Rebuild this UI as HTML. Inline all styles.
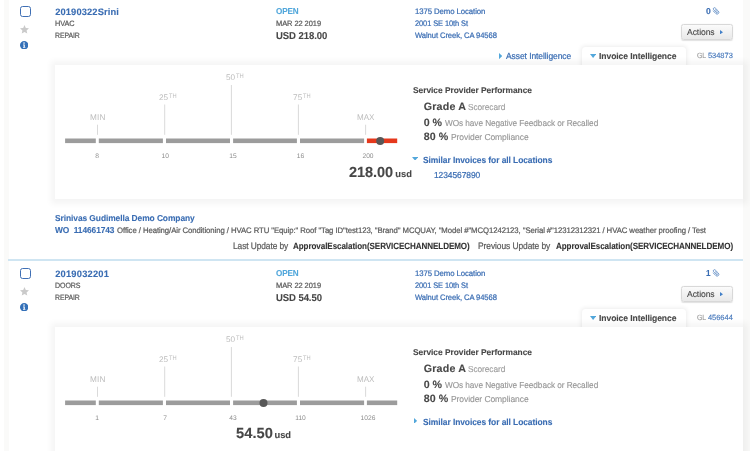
<!DOCTYPE html>
<html lang="en"><head><meta charset="utf-8"><title>Invoices</title>
<style>
html,body{margin:0;padding:0}
body{width:750px;height:451px;overflow:hidden;position:relative;background:#fff;font-family:"Liberation Sans",sans-serif;text-rendering:geometricPrecision}
.page{position:absolute;left:0;top:0;width:750px;height:451px;overflow:hidden}
.gut{position:absolute;left:4.3px;top:0;width:746px;height:451px;background:#fafaf9}
.white{position:absolute;left:8.7px;top:0;width:733.9px;height:451px;background:#fff}
.t{position:absolute;white-space:nowrap;line-height:20px;transform-origin:0 0;-webkit-text-stroke:.22px}
.t.n{-webkit-text-stroke:0}
.t.g{-webkit-text-stroke:.12px}
.i{position:absolute;display:block}
.panel{position:absolute;left:55.2px;width:687.4px;background:#fff;box-shadow:0 0 6px 4.5px rgba(0,0,0,.042)}
.tab{position:absolute;left:581.6px;width:104.6px;height:24px;background:#fff;border-radius:3.5px 3.5px 0 0;box-shadow:0 0 4px .5px rgba(0,0,0,.075)}
.tabcover{position:absolute;left:575px;width:118px;height:8px;background:#fff}
.sep{position:absolute;left:8.4px;width:734.2px;top:258.8px;height:2px;background:#cfe5f2}
.cb{position:absolute;left:20px;width:8.6px;height:8.6px;border:1.1px solid #3f6fb4;border-radius:2.6px;background:#fff}
.btn{position:absolute;left:681.4px;width:49.6px;height:14.2px;border:.7px solid #d8d8d8;border-radius:2.5px;background:linear-gradient(#fbfbfb,#e9e9e9);box-shadow:0 .7px 1px rgba(0,0,0,.12)}
</style></head>
<body>
<div class="page">
<div class="gut"></div><div class="white"></div>
<div class="sep"></div>
<!-- row 1 -->
<div class="tab" style="top:46.9px"></div>
<div class="panel" style="top:64.7px;height:134.4px"></div>
<div class="tabcover" style="top:64.7px"></div>
<svg class="i" style="left:60px;top:80.0px" width="345" height="70" viewBox="60 80 345 70">
<rect x="65.1" y="138.5" width="30.7" height="4.6" fill="#9c9c9c"/>
<rect x="98.8" y="138.5" width="64.1" height="4.6" fill="#9c9c9c"/>
<rect x="166.0" y="138.5" width="64.0" height="4.6" fill="#9c9c9c"/>
<rect x="233.1" y="138.5" width="63.8" height="4.6" fill="#9c9c9c"/>
<rect x="300.0" y="138.5" width="64.1" height="4.6" fill="#9c9c9c"/>
<rect x="366.9" y="138.5" width="30.3" height="4.6" fill="#e5381c"/>
<rect x="97.0" y="124.7" width="1" height="10.1" fill="#dadada"/>
<rect x="164.2" y="104.5" width="1" height="30.3" fill="#dadada"/>
<rect x="230.9" y="85.0" width="1" height="49.8" fill="#dadada"/>
<rect x="297.9" y="104.5" width="1" height="30.3" fill="#dadada"/>
<rect x="365.1" y="124.7" width="1" height="10.1" fill="#dadada"/>
<circle cx="380.2" cy="141.1" r="4" fill="#575757"/>
</svg>
<div class="cb" style="top:6.2px"></div>
<svg class="i" style="left:20px;top:25.0px" width="9" height="8.6" viewBox="0 0 20 19"><polygon fill="#cacaca" points="10,0 12.9,6.6 20,7.3 14.6,12 16.2,19 10,15.3 3.8,19 5.4,12 0,7.3 7.1,6.6"/></svg>
<svg class="i" style="left:19.9px;top:41.0px" width="8.4" height="8.4" viewBox="0 0 20 20"><circle cx="10" cy="10" r="10" fill="#3470b8"/><circle cx="9.6" cy="5" r="1.9" fill="#fff"/><path d="M7.2 8.2h4.2v6.2h1.4v1.9H7.2v-1.9h1.4v-4.3H7.2z" fill="#fff"/></svg>
<svg class="i" style="left:712px;top:7.4px" width="7.5" height="8" viewBox="0 0 15 16"><g transform="rotate(-45 7.5 8)" fill="none" stroke="#4578ba" stroke-width="1.35" stroke-linecap="round"><path d="M4 4.5v7.3a3.5 3.5 0 0 0 7 0V3.2a2.35 2.35 0 0 0-4.7 0v7.9a1.2 1.2 0 0 0 2.4 0V5.4"/></g></svg>
<div class="btn" style="top:24.3px"></div>
<svg class="i" style="left:720.3px;top:29.9px" width="3" height="4.4" viewBox="0 0 3 4.4"><polygon fill="#4380c8" points="0,0 3,2.2 0,4.4"/></svg>
<svg class="i" style="left:498.5px;top:52.9px" width="3.3" height="6.2" viewBox="0 0 3.3 6.2"><polygon fill="#52a7db" points="0,0 3.3,3.1 0,6.2"/></svg>
<svg class="i" style="left:590.2px;top:53.8px" width="6.2" height="3.9" viewBox="0 0 6.2 3.9"><polygon fill="#52a7db" points="0,0 6.2,0 3.1,3.9"/></svg>
<svg class="i" style="left:412.1px;top:156.7px" width="6.2" height="3.6" viewBox="0 0 6.2 3.6"><polygon fill="#52a7db" points="0,0 6.2,0 3.1,3.6"/></svg>
<!-- row 2 -->
<div class="tab" style="top:308.9px"></div>
<div class="panel" style="top:326.7px;height:300px"></div>
<div class="tabcover" style="top:326.7px"></div>
<svg class="i" style="left:60px;top:342px" width="345" height="70" viewBox="60 80 345 70">
<rect x="65.1" y="138.5" width="30.7" height="4.6" fill="#9c9c9c"/>
<rect x="98.8" y="138.5" width="64.1" height="4.6" fill="#9c9c9c"/>
<rect x="166.0" y="138.5" width="64.0" height="4.6" fill="#9c9c9c"/>
<rect x="233.1" y="138.5" width="63.8" height="4.6" fill="#9c9c9c"/>
<rect x="300.0" y="138.5" width="64.1" height="4.6" fill="#9c9c9c"/>
<rect x="366.9" y="138.5" width="30.3" height="4.6" fill="#9c9c9c"/>
<rect x="97.0" y="124.7" width="1" height="10.1" fill="#dadada"/>
<rect x="164.2" y="104.5" width="1" height="30.3" fill="#dadada"/>
<rect x="230.9" y="85.0" width="1" height="49.8" fill="#dadada"/>
<rect x="297.9" y="104.5" width="1" height="30.3" fill="#dadada"/>
<rect x="365.1" y="124.7" width="1" height="10.1" fill="#dadada"/>
<circle cx="263.5" cy="141.1" r="4" fill="#575757"/>
</svg>
<div class="cb" style="top:268.2px"></div>
<svg class="i" style="left:20px;top:287.0px" width="9" height="8.6" viewBox="0 0 20 19"><polygon fill="#cacaca" points="10,0 12.9,6.6 20,7.3 14.6,12 16.2,19 10,15.3 3.8,19 5.4,12 0,7.3 7.1,6.6"/></svg>
<svg class="i" style="left:19.9px;top:303.0px" width="8.4" height="8.4" viewBox="0 0 20 20"><circle cx="10" cy="10" r="10" fill="#3470b8"/><circle cx="9.6" cy="5" r="1.9" fill="#fff"/><path d="M7.2 8.2h4.2v6.2h1.4v1.9H7.2v-1.9h1.4v-4.3H7.2z" fill="#fff"/></svg>
<svg class="i" style="left:712px;top:269.4px" width="7.5" height="8" viewBox="0 0 15 16"><g transform="rotate(-45 7.5 8)" fill="none" stroke="#4578ba" stroke-width="1.35" stroke-linecap="round"><path d="M4 4.5v7.3a3.5 3.5 0 0 0 7 0V3.2a2.35 2.35 0 0 0-4.7 0v7.9a1.2 1.2 0 0 0 2.4 0V5.4"/></g></svg>
<div class="btn" style="top:286.3px"></div>
<svg class="i" style="left:720.3px;top:291.9px" width="3" height="4.4" viewBox="0 0 3 4.4"><polygon fill="#4380c8" points="0,0 3,2.2 0,4.4"/></svg>
<svg class="i" style="left:590.2px;top:315.8px" width="6.2" height="3.9" viewBox="0 0 6.2 3.9"><polygon fill="#52a7db" points="0,0 6.2,0 3.1,3.9"/></svg>
<svg class="i" style="left:413.6px;top:417.6px" width="3.2" height="5.8" viewBox="0 0 3.2 5.8"><polygon fill="#52a7db" points="0,0 3.2,2.9 0,5.8"/></svg>
<span class="t" style="top:2px;font-size:9.33px;color:#3a6db3;font-weight:700;-webkit-text-stroke:.1px;left:55.20px;letter-spacing:0.124px;">20190322Srini</span>
<span class="t" style="top:14px;font-size:7.7px;color:#5a5a5a;left:55.20px;letter-spacing:-0.080px;transform:scaleX(0.9501);">HVAC</span>
<span class="t" style="top:26px;font-size:7.7px;color:#5a5a5a;left:55.20px;letter-spacing:-0.080px;transform:scaleX(0.8962);">REPAIR</span>
<span class="t" style="top:1px;font-size:8.67px;color:#52a7db;font-weight:700;-webkit-text-stroke:.1px;left:275.90px;letter-spacing:-0.080px;transform:scaleX(0.9343);">OPEN</span>
<span class="t" style="top:14px;font-size:7.7px;color:#5a5a5a;left:275.90px;letter-spacing:-0.080px;transform:scaleX(0.9748);">MAR 22 2019</span>
<span class="t" style="top:27px;font-size:10px;color:#474747;font-weight:700;-webkit-text-stroke:.1px;left:275.90px;letter-spacing:-0.080px;transform:scaleX(0.9533);">USD 218.00</span>
<span class="t" style="top:2px;font-size:8px;color:#3a6db3;left:415.20px;letter-spacing:-0.080px;transform:scaleX(0.9711);">1375 Demo Location</span>
<span class="t" style="top:14px;font-size:8px;color:#3a6db3;left:415.20px;letter-spacing:-0.080px;transform:scaleX(0.9282);">2001 SE 10th St</span>
<span class="t" style="top:26px;font-size:8px;color:#3a6db3;left:415.20px;letter-spacing:-0.080px;transform:scaleX(0.9511);">Walnut Creek, CA 94568</span>
<span class="t" style="top:1px;font-size:8.67px;color:#3a6db3;font-weight:700;-webkit-text-stroke:.1px;left:706.00px;letter-spacing:0.439px;">0</span>
<span class="t g" style="top:22px;font-size:8.67px;color:#474747;left:687.10px;letter-spacing:-0.080px;transform:scaleX(0.9910);">Actions</span>
<span class="t" style="top:46px;font-size:8.8px;color:#3a6db3;left:505.80px;letter-spacing:-0.080px;transform:scaleX(0.9653);">Asset Intelligence</span>
<span class="t" style="top:46px;font-size:8.67px;color:#474747;font-weight:700;-webkit-text-stroke:.1px;left:599.30px;letter-spacing:-0.080px;transform:scaleX(0.9887);">Invoice Intelligence</span>
<span class="t g" style="top:46px;font-size:7.6px;color:#999;left:696.70px;letter-spacing:-0.080px;transform:scaleX(0.9139);">GL</span>
<span class="t g" style="top:46px;font-size:7.5px;color:#4577bb;left:707.90px;letter-spacing:-0.016px;">534873</span>
<span class="t" style="top:80px;font-size:8.4px;color:#474747;font-weight:700;-webkit-text-stroke:.1px;left:413.00px;letter-spacing:-0.026px;">Service Provider Performance</span>
<span class="t" style="top:97px;font-size:10.67px;color:#474747;font-weight:700;-webkit-text-stroke:.1px;left:423.70px;letter-spacing:0.217px;">Grade A</span>
<span class="t g" style="top:97px;font-size:8.67px;color:#9c9c9c;left:467.70px;letter-spacing:-0.080px;transform:scaleX(0.9619);">Scorecard</span>
<span class="t" style="top:113px;font-size:10.67px;color:#474747;font-weight:700;-webkit-text-stroke:.1px;left:423.70px;">0 %</span>
<span class="t g" style="top:113px;font-size:8.67px;color:#969696;left:444.60px;letter-spacing:-0.080px;transform:scaleX(0.9539);">WOs have Negative Feedback or Recalled</span>
<span class="t" style="top:127px;font-size:10.67px;color:#474747;font-weight:700;-webkit-text-stroke:.1px;left:423.70px;letter-spacing:0.090px;">80 %</span>
<span class="t g" style="top:127px;font-size:8.67px;color:#969696;left:450.90px;letter-spacing:-0.080px;transform:scaleX(0.9840);">Provider Compliance</span>
<span class="t" style="top:150px;font-size:8.9px;color:#3a6db3;font-weight:700;-webkit-text-stroke:.1px;left:422.60px;letter-spacing:-0.080px;transform:scaleX(0.9514);">Similar Invoices for all Locations</span>
<span class="t" style="top:165px;font-size:8.67px;color:#3a6db3;left:433.50px;letter-spacing:-0.080px;transform:scaleX(0.9749);">1234567890</span>
<span class="t n" style="top:108px;font-size:8.2px;color:#bdbdbd;left:89.90px;letter-spacing:0.252px;">MIN</span>
<span class="t n" style="top:88px;font-size:8.2px;color:#bdbdbd;left:158.90px;letter-spacing:0.011px;">25</span>
<span class="t n" style="top:87px;font-size:6.4px;color:#bdbdbd;left:169.00px;letter-spacing:-0.080px;transform:scaleX(0.8961);">TH</span>
<span class="t n" style="top:68px;font-size:8.2px;color:#bdbdbd;left:226.00px;letter-spacing:0.011px;">50</span>
<span class="t n" style="top:67px;font-size:6.4px;color:#bdbdbd;left:236.10px;letter-spacing:-0.080px;transform:scaleX(0.9089);">TH</span>
<span class="t n" style="top:88px;font-size:8.2px;color:#bdbdbd;left:293.10px;letter-spacing:0.111px;">75</span>
<span class="t n" style="top:87px;font-size:6.4px;color:#bdbdbd;left:303.30px;letter-spacing:-0.080px;transform:scaleX(0.8961);">TH</span>
<span class="t n" style="top:108px;font-size:8.2px;color:#bdbdbd;left:356.70px;letter-spacing:-0.080px;transform:scaleX(0.9839);">MAX</span>
<span class="t n" style="top:147px;font-size:6.67px;color:#8c8c8c;left:67.00px;width:60px;text-align:center;">8</span>
<span class="t n" style="top:147px;font-size:6.67px;color:#8c8c8c;left:135.20px;width:60px;text-align:center;">10</span>
<span class="t n" style="top:147px;font-size:6.67px;color:#8c8c8c;left:203.00px;width:60px;text-align:center;">15</span>
<span class="t n" style="top:147px;font-size:6.67px;color:#8c8c8c;left:270.50px;width:60px;text-align:center;">16</span>
<span class="t n" style="top:147px;font-size:6.67px;color:#8c8c8c;left:338.00px;width:60px;text-align:center;">200</span>
<span class="t" style="top:163px;font-size:14.67px;color:#474747;font-weight:700;-webkit-text-stroke:.1px;left:348.70px;letter-spacing:-0.080px;transform:scaleX(0.9916);">218.00</span>
<span class="t" style="top:164px;font-size:9.33px;color:#474747;font-weight:700;-webkit-text-stroke:.1px;left:395.20px;letter-spacing:0.070px;">usd</span>
<span class="t" style="top:208px;font-size:8.67px;color:#3a6db3;font-weight:700;-webkit-text-stroke:.1px;left:55.20px;letter-spacing:-0.080px;transform:scaleX(0.9714);">Srinivas Gudimella Demo Company</span>
<span class="t" style="top:220px;font-size:8.67px;color:#3a6db3;font-weight:700;-webkit-text-stroke:.1px;left:55.20px;letter-spacing:-0.080px;transform:scaleX(0.9662);">WO&nbsp;&nbsp;114661743</span>
<span class="t" style="top:221px;font-size:8px;color:#5a5a5a;left:116.50px;letter-spacing:-0.080px;transform:scaleX(0.9696);">Office / Heating/Air Conditioning / HVAC RTU &quot;Equip:&quot; Roof &quot;Tag ID&quot;test123, &quot;Brand&quot; MCQUAY, &quot;Model #&quot;MCQ1242123, &quot;Serial #&quot;12312312321 / HVAC weather proofing / Test</span>
<span class="t" style="top:236px;font-size:9.33px;color:#5a5a5a;left:233.20px;letter-spacing:-0.080px;transform:scaleX(0.8951);">Last Update by</span>
<span class="t" style="top:236px;font-size:9.0px;color:#333;font-weight:700;-webkit-text-stroke:.1px;left:292.90px;letter-spacing:-0.080px;transform:scaleX(0.8951);">ApprovalEscalation(SERVICECHANNELDEMO)</span>
<span class="t" style="top:236px;font-size:9.33px;color:#5a5a5a;left:477.90px;letter-spacing:-0.080px;transform:scaleX(0.9023);">Previous Update by</span>
<span class="t" style="top:236px;font-size:9.0px;color:#333;font-weight:700;-webkit-text-stroke:.1px;left:556.40px;letter-spacing:-0.080px;transform:scaleX(0.8971);">ApprovalEscalation(SERVICECHANNELDEMO)</span>
<span class="t" style="top:264px;font-size:9.33px;color:#3a6db3;font-weight:700;-webkit-text-stroke:.1px;left:55.20px;letter-spacing:0.205px;">2019032201</span>
<span class="t" style="top:276px;font-size:7.7px;color:#5a5a5a;left:55.20px;letter-spacing:-0.080px;transform:scaleX(0.9147);">DOORS</span>
<span class="t" style="top:288px;font-size:7.7px;color:#5a5a5a;left:55.20px;letter-spacing:-0.080px;transform:scaleX(0.8962);">REPAIR</span>
<span class="t" style="top:263px;font-size:8.67px;color:#52a7db;font-weight:700;-webkit-text-stroke:.1px;left:275.90px;letter-spacing:-0.080px;transform:scaleX(0.9343);">OPEN</span>
<span class="t" style="top:276px;font-size:7.7px;color:#5a5a5a;left:275.90px;letter-spacing:-0.080px;transform:scaleX(0.9748);">MAR 22 2019</span>
<span class="t" style="top:289px;font-size:10px;color:#474747;font-weight:700;-webkit-text-stroke:.1px;left:275.90px;letter-spacing:-0.080px;transform:scaleX(0.9517);">USD 54.50</span>
<span class="t" style="top:264px;font-size:8px;color:#3a6db3;left:415.20px;letter-spacing:-0.080px;transform:scaleX(0.9711);">1375 Demo Location</span>
<span class="t" style="top:276px;font-size:8px;color:#3a6db3;left:415.20px;letter-spacing:-0.080px;transform:scaleX(0.9282);">2001 SE 10th St</span>
<span class="t" style="top:288px;font-size:8px;color:#3a6db3;left:415.20px;letter-spacing:-0.080px;transform:scaleX(0.9511);">Walnut Creek, CA 94568</span>
<span class="t" style="top:263px;font-size:8.67px;color:#3a6db3;font-weight:700;-webkit-text-stroke:.1px;left:706.20px;letter-spacing:-0.080px;transform:scaleX(0.9341);">1</span>
<span class="t g" style="top:284px;font-size:8.67px;color:#474747;left:687.10px;letter-spacing:-0.080px;transform:scaleX(0.9910);">Actions</span>
<span class="t" style="top:308px;font-size:8.67px;color:#474747;font-weight:700;-webkit-text-stroke:.1px;left:599.30px;letter-spacing:-0.080px;transform:scaleX(0.9887);">Invoice Intelligence</span>
<span class="t g" style="top:308px;font-size:7.6px;color:#999;left:696.70px;letter-spacing:-0.080px;transform:scaleX(0.9139);">GL</span>
<span class="t g" style="top:308px;font-size:7.5px;color:#4577bb;left:707.90px;letter-spacing:-0.016px;">456644</span>
<span class="t" style="top:342px;font-size:8.4px;color:#474747;font-weight:700;-webkit-text-stroke:.1px;left:413.00px;letter-spacing:-0.026px;">Service Provider Performance</span>
<span class="t" style="top:359px;font-size:10.67px;color:#474747;font-weight:700;-webkit-text-stroke:.1px;left:423.70px;letter-spacing:0.217px;">Grade A</span>
<span class="t g" style="top:359px;font-size:8.67px;color:#9c9c9c;left:467.70px;letter-spacing:-0.080px;transform:scaleX(0.9619);">Scorecard</span>
<span class="t" style="top:375px;font-size:10.67px;color:#474747;font-weight:700;-webkit-text-stroke:.1px;left:423.70px;">0 %</span>
<span class="t g" style="top:375px;font-size:8.67px;color:#969696;left:444.60px;letter-spacing:-0.080px;transform:scaleX(0.9539);">WOs have Negative Feedback or Recalled</span>
<span class="t" style="top:389px;font-size:10.67px;color:#474747;font-weight:700;-webkit-text-stroke:.1px;left:423.70px;letter-spacing:0.090px;">80 %</span>
<span class="t g" style="top:389px;font-size:8.67px;color:#969696;left:450.90px;letter-spacing:-0.080px;transform:scaleX(0.9840);">Provider Compliance</span>
<span class="t" style="top:412px;font-size:8.9px;color:#3a6db3;font-weight:700;-webkit-text-stroke:.1px;left:422.60px;letter-spacing:-0.080px;transform:scaleX(0.9514);">Similar Invoices for all Locations</span>
<span class="t n" style="top:370px;font-size:8.2px;color:#bdbdbd;left:89.90px;letter-spacing:0.252px;">MIN</span>
<span class="t n" style="top:350px;font-size:8.2px;color:#bdbdbd;left:158.90px;letter-spacing:0.011px;">25</span>
<span class="t n" style="top:349px;font-size:6.4px;color:#bdbdbd;left:169.00px;letter-spacing:-0.080px;transform:scaleX(0.8961);">TH</span>
<span class="t n" style="top:330px;font-size:8.2px;color:#bdbdbd;left:226.00px;letter-spacing:0.011px;">50</span>
<span class="t n" style="top:329px;font-size:6.4px;color:#bdbdbd;left:236.10px;letter-spacing:-0.080px;transform:scaleX(0.9089);">TH</span>
<span class="t n" style="top:350px;font-size:8.2px;color:#bdbdbd;left:293.10px;letter-spacing:0.111px;">75</span>
<span class="t n" style="top:349px;font-size:6.4px;color:#bdbdbd;left:303.30px;letter-spacing:-0.080px;transform:scaleX(0.8961);">TH</span>
<span class="t n" style="top:370px;font-size:8.2px;color:#bdbdbd;left:356.70px;letter-spacing:-0.080px;transform:scaleX(0.9839);">MAX</span>
<span class="t n" style="top:409px;font-size:6.67px;color:#8c8c8c;left:67.00px;width:60px;text-align:center;">1</span>
<span class="t n" style="top:409px;font-size:6.67px;color:#8c8c8c;left:135.20px;width:60px;text-align:center;">7</span>
<span class="t n" style="top:409px;font-size:6.67px;color:#8c8c8c;left:203.00px;width:60px;text-align:center;">43</span>
<span class="t n" style="top:409px;font-size:6.67px;color:#8c8c8c;left:270.50px;width:60px;text-align:center;">110</span>
<span class="t n" style="top:409px;font-size:6.67px;color:#8c8c8c;left:338.00px;width:60px;text-align:center;">1026</span>
<span class="t" style="top:424px;font-size:14.67px;color:#474747;font-weight:700;-webkit-text-stroke:.1px;left:236.00px;letter-spacing:0.070px;">54.50</span>
<span class="t" style="top:425px;font-size:9.33px;color:#474747;font-weight:700;-webkit-text-stroke:.1px;left:274.60px;letter-spacing:-0.080px;">usd</span>
</div>
</body></html>
